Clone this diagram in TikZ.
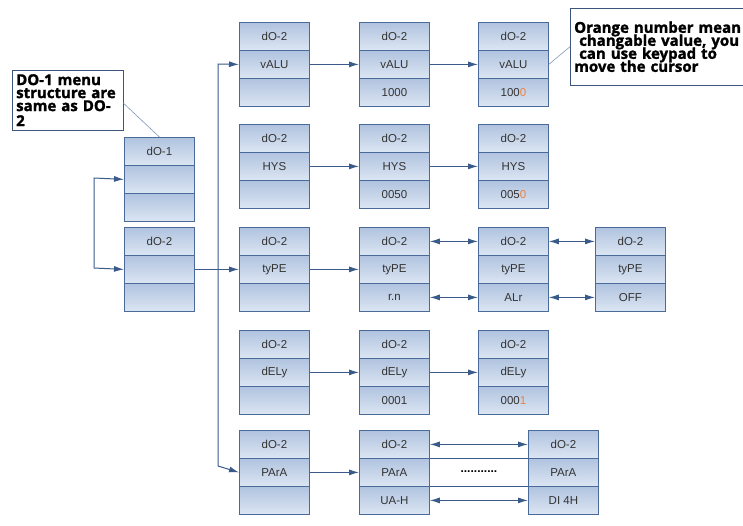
\documentclass[tikz,border=0pt]{standalone}
\usepackage{fontspec}
\setmainfont{Liberation Sans}
\newfontfamily\callfont{Open Sans}[FakeBold=1.5]
\usetikzlibrary{arrows.meta}
\definecolor{bord}{HTML}{4A6A9A}
\definecolor{arr}{HTML}{3A5A8A}
\definecolor{ctop}{HTML}{B0C3DF}
\definecolor{cbot}{HTML}{DCE6F3}
\definecolor{org}{HTML}{F08040}
\tikzset{
 cell/.style={draw=bord, line width=0.8pt, top color=ctop, bottom color=cbot, minimum width=70pt, minimum height=28pt, inner sep=0pt, anchor=north west, font=\fontsize{11.5}{13}\selectfont, text=black!80},
 con/.style={draw=arr, line width=1pt, -{Latex[length=10pt,width=6pt]}},
 dcon/.style={draw=arr, line width=1pt, {Latex[length=10pt,width=6pt]}-{Latex[length=10pt,width=6pt]}},
 pl/.style={draw=arr, line width=1pt},
 call/.style={draw=bord!80!black, fill=white, anchor=north west, align=left, font=\callfont\bfseries\fontsize{15}{15}\selectfont, inner sep=4pt, text=black},
}
\newcommand{\menubox}[6]{%
 \node[cell] (#1-1) at (#2,#3) {#4};
 \node[cell] (#1-2) at (#2,#3+28) {#5};
 \node[cell] (#1-3) at (#2,#3+56) {#6};}
\newcommand{\og}[1]{\textcolor{org}{#1}}
\begin{document}
\begin{tikzpicture}[x=1pt,y=-1pt]
\useasboundingbox (0,0) rectangle (743,525);
\menubox{a}{124}{137}{dO-1}{}{}
\menubox{b}{124}{227}{dO-2}{}{}
\menubox{v1}{239}{22}{dO-2}{vALU}{}
\menubox{v2}{359}{22}{dO-2}{vALU}{1000}
\menubox{v3}{478}{22}{dO-2}{vALU}{100\og{0}}
\menubox{h1}{239}{124}{dO-2}{HYS}{}
\menubox{h2}{359}{124}{dO-2}{HYS}{0050}
\menubox{h3}{478}{124}{dO-2}{HYS}{005\og{0}}
\menubox{t1}{239}{227}{dO-2}{tyPE}{}
\menubox{t2}{359}{227}{dO-2}{tyPE}{r.n}
\menubox{t3}{478}{227}{dO-2}{tyPE}{ALr}
\menubox{t4}{595}{227}{dO-2}{tyPE}{OFF}
\menubox{d1}{239}{330}{dO-2}{dELy}{}
\menubox{d2}{359}{330}{dO-2}{dELy}{0001}
\menubox{d3}{478}{330}{dO-2}{dELy}{000\og{1}}
\menubox{p1}{239}{430}{dO-2}{PArA}{}
\menubox{p2}{359}{430}{dO-2}{PArA}{UA-H}
\menubox{p3}{528}{430}{dO-2}{PArA}{DI 4H}
% callouts
\node[call, text width=103pt, minimum height=55pt] (c1) at (12,70) {DO-1 menu\\[-2pt]structure are\\[-2pt]same as DO-2};
\node[call, text width=175pt, minimum height=77pt] (c2) at (570,8) {Orange number mean\\[-2pt]\ changable value, you\\[-2pt]\ can use keypad to\\[-2pt]move the cursor};
\draw[bord!70, line width=0.6pt] (c1.east) ++(0,3) -- (a-1.north);
\draw[bord!70, line width=0.6pt] (v3-2.east) -- (c2.west);
% loop
\coordinate (l1) at (94,178);
\coordinate (l2) at (94,268);
\draw[con] (l2) -- (l1) -- (a-2.west);
\draw[con] (l2) -- (b-2.west);
% trunk
\coordinate (tr1) at (218,64);
\coordinate (tr3) at (218,466);
\draw[con] (b-2.east) -- (t1-2.west);
\draw[con] (tr3) -- (tr1) -- (v1-2.west);
\draw[con] (tr3) -- (p1-2.west);
% rows
\draw[con] (v1-2.east) -- (v2-2.west);
\draw[con] (v2-2.east) -- (v3-2.west);
\draw[con] (h1-2.east) -- (h2-2.west);
\draw[con] (h2-2.east) -- (h3-2.west);
\draw[con] (t1-2.east) -- (t2-2.west);
\draw[dcon] (t2-1.east) -- (t3-1.west);
\draw[dcon] (t2-3.east) -- (t3-3.west);
\draw[dcon] (t3-1.east) -- (t4-1.west);
\draw[dcon] (t3-3.east) -- (t4-3.west);
\draw[con] (d1-2.east) -- (d2-2.west);
\draw[con] (d2-2.east) -- (d3-2.west);
\draw[con] (p1-2.east) -- (p2-2.west);
\draw[dcon] (p2-1.east) -- (p3-1.west);
\draw[dcon] (p2-3.east) -- (p3-3.west);
\draw[pl] (p2-2.north east) -- (p3-2.north west);
\draw[pl] (p2-2.south east) -- (p3-2.south west);
\path (p2-2.east) -- node[font=\bfseries\fontsize{12}{12}\selectfont, yshift=1pt] (dt) {...........} (p3-2.west);
\end{tikzpicture}
\end{document}
